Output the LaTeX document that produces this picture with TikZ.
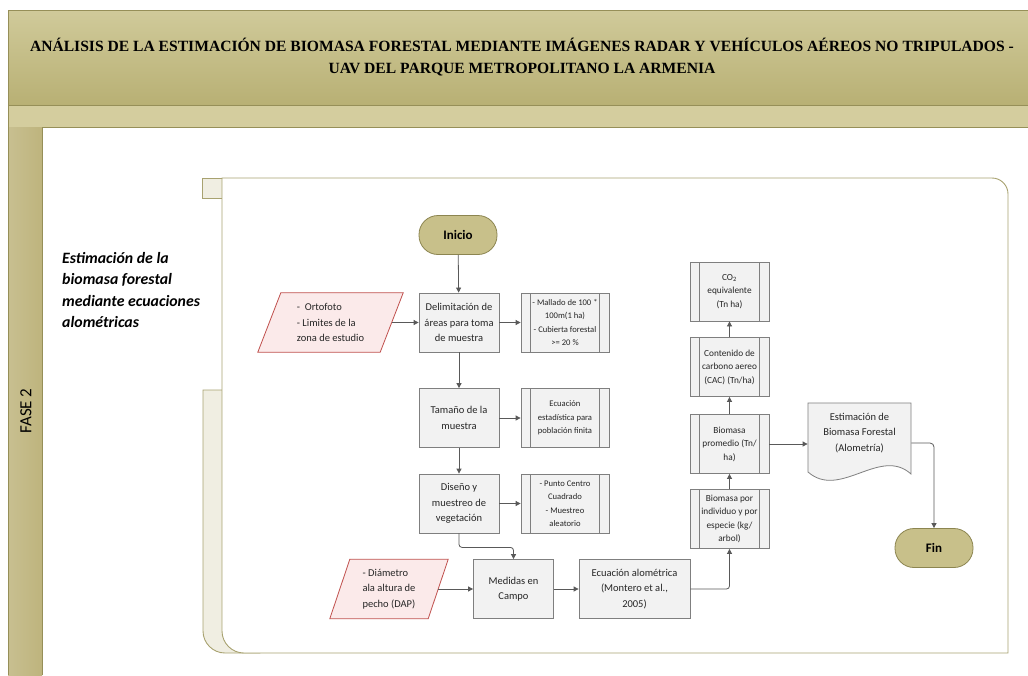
\documentclass[tikz,border=0pt]{standalone}
\usepackage{fontspec}
\setmainfont{Carlito}
\newfontfamily\titlefont{Liberation Serif}
\usetikzlibrary{arrows.meta}

\definecolor{olivetop}{RGB}{208,202,154}
\definecolor{olivebot}{RGB}{184,176,116}
\definecolor{oliveband}{RGB}{212,205,158}
\definecolor{oliveline}{RGB}{150,143,88}
\definecolor{olivebar}{RGB}{190,180,125}
\definecolor{termfill}{RGB}{200,192,138}
\definecolor{termline}{RGB}{140,133,80}
\definecolor{boxfill}{RGB}{242,242,242}
\definecolor{boxline}{RGB}{127,127,127}
\definecolor{datafill}{RGB}{251,234,234}
\definecolor{dataline}{RGB}{192,80,77}
\definecolor{arrowgray}{RGB}{89,89,89}
\definecolor{panelline}{RGB}{168,162,112}
\definecolor{tabfill}{RGB}{240,238,226}
\definecolor{txt}{RGB}{38,38,38}

\tikzset{
  proc/.style={draw=boxline, fill=boxfill, line width=0.8pt, minimum width=80pt,
    minimum height=59pt, align=center, inner sep=1pt, text=txt,
    font=\fontsize{10.5}{15.5}\selectfont},
  subproc/.style={proc, minimum width=88pt, inner sep=0pt, font=\fontsize{8.6}{13.5}\selectfont,
    path picture={\draw[boxline, line width=0.8pt]
      ([xshift=9.5pt]path picture bounding box.north west) --
      ([xshift=9.5pt]path picture bounding box.south west)
      ([xshift=-9.5pt]path picture bounding box.north east) --
      ([xshift=-9.5pt]path picture bounding box.south east);}},
  colbox/.style={subproc, minimum width=79pt, font=\fontsize{9.3}{13.5}\selectfont},
  dato/.style={minimum height=59pt, align=left, inner sep=1pt, text=txt,
    font=\fontsize{10.5}{15.5}\selectfont},
  datoline/.style={draw=dataline, fill=datafill, line width=0.8pt},
  term/.style={draw=termline, fill=termfill, line width=0.8pt, rounded corners=19pt,
    minimum width=78pt, minimum height=39pt, font=\fontsize{13}{15}\selectfont\bfseries},
  flecha/.style={draw=arrowgray, line width=0.8pt, -{Triangle[length=5pt,width=5pt]}},
  panel/.style={draw=panelline, line width=0.9pt}
}

\begin{document}
\begin{tikzpicture}[x=1pt, y=-1pt]
  \useasboundingbox (0,0) rectangle (1028,675);

  % encabezado y barra lateral
  \shade[top color=olivetop, bottom color=olivebot] (8,10) rectangle (1028,105);
  \fill[oliveband] (8,105) rectangle (1028,127);
  \shade[left color=olivebar!85!white, right color=olivebar] (8,127) rectangle (42,675);
  \draw[oliveline, line width=0.8pt] (1028,10) -- (8,10) -- (8,675);
  \draw[oliveline, line width=0.8pt] (8,105) -- (1028,105);
  \draw[oliveline, line width=0.8pt] (42,675) -- (42,127) -- (1028,127);
  \node[font=\titlefont\bfseries\fontsize{15.6}{22}\selectfont, align=center] (titulo) at (522,57)
    {ANÁLISIS DE LA ESTIMACIÓN DE BIOMASA FORESTAL MEDIANTE IMÁGENES RADAR Y VEHÍCULOS AÉREOS NO TRIPULADOS -\\
     UAV DEL PARQUE METROPOLITANO LA ARMENIA};
  \node[rotate=90, font=\fontsize{17}{20}\selectfont] (fase) at (26,411) {FASE 2};
  \node[anchor=north west, align=left, inner sep=0pt,
    font=\fontsize{15.8}{21.5}\selectfont\bfseries\itshape] (etapa) at (62,252)
    {Estimación de la\\biomasa forestal\\mediante ecuaciones\\alométricas};

  % contenedor
  \draw[panel, fill=tabfill] (222,390) -- (203,390) -- (203,631)
    .. controls (203,643.1) and (212.9,653) .. (225,653) -- (260,653) -- (260,390);
  \draw[panel, fill=tabfill] (202,178) rectangle (222,198);
  \draw[panel, fill=white] (222,178) -- (992,178)
    .. controls (1000.8,178) and (1008,185.2) .. (1008,194) -- (1008,653) -- (244,653)
    .. controls (231.9,653) and (222,643.1) .. (222,631) -- cycle;

  % nodos
  \node[term] (inicio) at (458,235) {Inicio};
  \node[dato, minimum width=122pt] (orto) at (330.5,322.5) {};
  \node[proc] (delim) at (459,322.5) {Delimitación de\\áreas para toma\\de muestra};
  \node[subproc] (malla) at (565,322.5) {- Mallado de 100 *\\100m(1 ha)\\- Cubierta forestal\\>= 20 \%};
  \node[proc] (tam) at (459,418) {Tamaño de la\\muestra};
  \node[subproc] (ecest) at (565,418) {Ecuación\\estadística para\\población finita};
  \node[proc] (dis) at (459,503.5) {Diseño y\\muestreo de\\vegetación};
  \node[subproc] (punto) at (565,503.5) {- Punto Centro\\Cuadrado\\- Muestreo\\aleatorio};
  \node[dato, minimum width=98pt] (diam) at (389,589) {};
  \node[proc] (med) at (513.5,589) {Medidas en\\Campo};
  \node[proc, minimum width=111pt] (ecalo) at (634.5,589)
    {Ecuación alométrica\\(Montero et al.,\\2005)};
  \node[colbox] (bind) at (729.5,519) {Biomasa por\\individuo y por\\especie (kg/\\arbol)};
  \node[colbox] (bprom) at (729.5,444) {Biomasa\\promedio (Tn/\\ha)};
  \node[colbox] (cac) at (729.5,367) {Contenido de\\carbono aereo\\(CAC) (Tn/ha)};
  \node[colbox] (co2) at (729.5,291.5) {CO\textsubscript{2}\\equivalente\\(Tn ha)};
  \draw[draw=boxline, fill=boxfill, line width=0.8pt] (808,472) -- (808,403) -- (911,403) -- (911,474)
    .. controls (880,446) and (840,500) .. cycle;
  \node[proc, draw=none, fill=none, minimum width=103pt, minimum height=60pt] (doc) at (859.5,433)
    {Estimación de\\Biomasa Forestal\\(Alometría)};
  \node[term] (fin) at (934,548) {Fin};

  \foreach \n/\s in {orto/11.5, diam/10}
    \draw[datoline] ([xshift=\s pt]\n.north west) -- ([xshift=\s pt]\n.north east)
      -- ([xshift=-\s pt]\n.south east) -- ([xshift=-\s pt]\n.south west) -- cycle;
  \node[dato] (ortotxt) at (orto) {- \ Ortofoto\\- Limites de la\\zona de estudio};
  \node[dato] (diamtxt) at (diam) {- Diámetro\\ala altura de\\pecho (DAP)};

  % conectores
  \draw[flecha] (inicio) -- (delim);
  \draw[flecha] (orto) -- (delim);
  \draw[flecha] (delim) -- (malla);
  \draw[flecha] (delim) -- (tam);
  \draw[flecha] (tam) -- (ecest);
  \draw[flecha] (tam) -- (dis);
  \draw[flecha] (dis) -- (punto);
  \draw[flecha, rounded corners=3pt] (dis.south) -- ++(0,14) -| (med.north);
  \draw[flecha] (diam) -- (med);
  \draw[flecha] (med) -- (ecalo);
  \draw[flecha, rounded corners=3pt] (ecalo.east) -| (bind.south);
  \draw[flecha] (bind) -- (bprom);
  \draw[flecha] (bprom) -- (cac);
  \draw[flecha] (cac) -- (co2);
  \draw[flecha] (bprom.east) -- (bprom.east -| doc.west);
  \draw[flecha, rounded corners=4pt] ([yshift=-10pt]doc.east) -| (fin.north);
\end{tikzpicture}
\end{document}
